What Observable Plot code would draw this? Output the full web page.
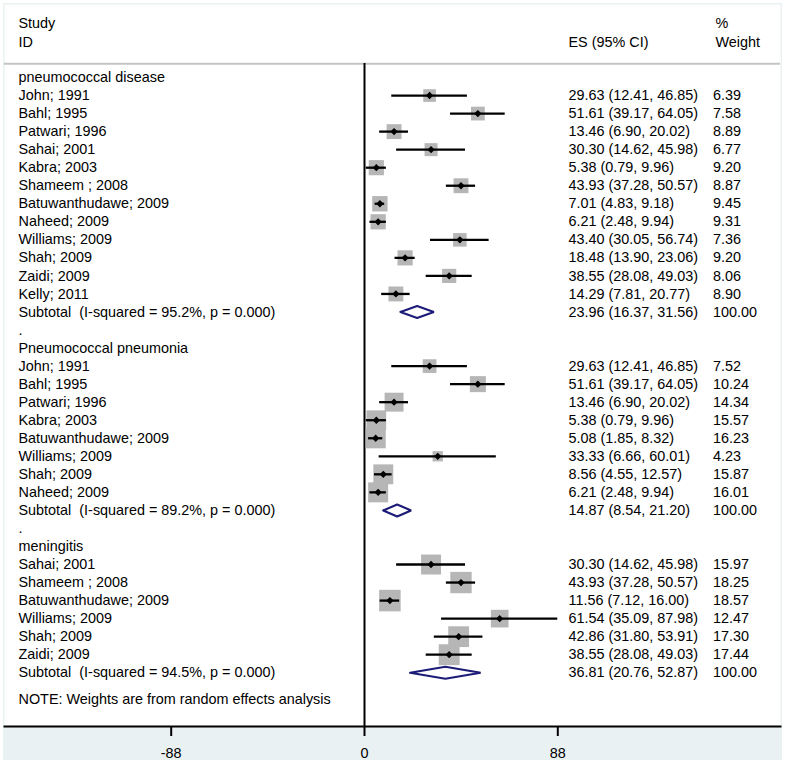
<!DOCTYPE html>
<html><head><meta charset="utf-8">
<script src="https://cdn.jsdelivr.net/npm/d3@7"></script>
<script src="https://cdn.jsdelivr.net/npm/@observablehq/plot@0.6"></script>
<style>
body{margin:0;background:#fff;}
#chart svg{display:block;outline:3px solid #fff;outline-offset:-3px;}
</style></head><body><div id="chart"></div>
<script>
// ---- data ----
const groupNames = ["pneumococcal disease", "Pneumococcal pneumonia", "meningitis"];
const studyGroup = [0,0,0,0,0,0,0,0,0,0,0,0, 1,1,1,1,1,1,1,1, 2,2,2,2,2,2];
const studyNames = [
  "John; 1991","Bahl; 1995","Patwari; 1996","Sahai; 2001","Kabra; 2003","Shameem ; 2008",
  "Batuwanthudawe; 2009","Naheed; 2009","Williams; 2009","Shah; 2009","Zaidi; 2009","Kelly; 2011",
  "John; 1991","Bahl; 1995","Patwari; 1996","Kabra; 2003","Batuwanthudawe; 2009","Williams; 2009","Shah; 2009","Naheed; 2009",
  "Sahai; 2001","Shameem ; 2008","Batuwanthudawe; 2009","Williams; 2009","Shah; 2009","Zaidi; 2009"
];
const esValues = [29.63,51.61,13.46,30.30,5.38,43.93,7.01,6.21,43.40,18.48,38.55,14.29,
  29.63,51.61,13.46,5.38,5.08,33.33,8.56,6.21,
  30.30,43.93,11.56,61.54,42.86,38.55];
const ciLower = [12.41,39.17,6.90,14.62,0.79,37.28,4.83,2.48,30.05,13.90,28.08,7.81,
  12.41,39.17,6.90,0.79,1.85,6.66,4.55,2.48,
  14.62,37.28,7.12,35.09,31.80,28.08];
const ciUpper = [46.85,64.05,20.02,45.98,9.96,50.57,9.18,9.94,56.74,23.06,49.03,20.77,
  46.85,64.05,20.02,9.96,8.32,60.01,12.57,9.94,
  45.98,50.57,16.00,87.98,53.91,49.03];
const weights = [6.39,7.58,8.89,6.77,9.20,8.87,9.45,9.31,7.36,9.20,8.06,8.90,
  7.52,10.24,14.34,15.57,16.23,4.23,15.87,16.01,
  15.97,18.25,18.57,12.47,17.30,17.44];
const subtotalLabels = [
  "Subtotal  (I-squared = 95.2%, p = 0.000)",
  "Subtotal  (I-squared = 89.2%, p = 0.000)",
  "Subtotal  (I-squared = 94.5%, p = 0.000)"
];
const subtotalES = [23.96, 14.87, 36.81];
const subtotalLower = [16.37, 8.54, 20.76];
const subtotalUpper = [31.56, 21.20, 52.87];
const subtotalWeight = [100, 100, 100];
const tickValues = [-88, 0, 88];
const noteText = "NOTE: Weights are from random effects analysis";
const headerLeft = ["Study", "ID"];
const headerES = "ES (95% CI)";
const headerWeight = ["%", "Weight"];

// ---- build rows ----
const labels = [], studies = [], subtotals = [];
let r = 0;
groupNames.forEach((g, gi) => {
  labels.push({row: r, text: g}); r++;
  studyNames.forEach((name, i) => {
    if (studyGroup[i] !== gi) return;
    studies.push({row: r, es: esValues[i], lo: ciLower[i], hi: ciUpper[i], w: weights[i]});
    labels.push({row: r, text: name}); r++;
  });
  subtotals.push({row: r, es: subtotalES[gi], lo: subtotalLower[gi], hi: subtotalUpper[gi], w: subtotalWeight[gi]});
  labels.push({row: r, text: subtotalLabels[gi].replace(/  /g, " \u00a0")}); r++;
  if (gi < groupNames.length - 1) { labels.push({row: r, text: "."}); r++; }
});
labels.push({row: r + 0.5, text: noteText});
const f2 = v => v.toFixed(2);
const esRows = [...studies, ...subtotals].map(d => ({row: d.row, text: `${f2(d.es)} (${f2(d.lo)}, ${f2(d.hi)})`}));
const wRows = [...studies, ...subtotals].map(d => ({row: d.row, text: f2(d.w)}));
const dh = 0.333;
const diamonds = subtotals.flatMap((d, k) => [
  {k, x: d.lo, y: d.row}, {k, x: d.es, y: d.row - dh}, {k, x: d.hi, y: d.row},
  {k, x: d.es, y: d.row + dh}, {k, x: d.lo, y: d.row}
]);

// layout: x scale and pixel columns for the text table
const xOpts = {domain: [-88, 88], range: [170.7, 557.3]};
const xs = Plot.scale({x: xOpts});
const colLabel = xs.invert(18), colES = xs.invert(568), colW = xs.invert(712.5), colWHead = xs.invert(715);

const FS = 14.4;
const font = "Arial, 'Liberation Sans', sans-serif";
const txt = {textAnchor: "start", fontSize: FS, fill: "#000"};
const chart = Plot.plot({
  width: 785, height: 763,
  marginLeft: 4, marginRight: 5, marginTop: 4, marginBottom: 37,
  style: {background: "#EAF1F3", fontFamily: font, fontSize: FS + "px", color: "#000"},
  x: xOpts,
  y: {type: "linear", domain: [0, 34.5], range: [77, 699.3], axis: null},
  r: {type: "sqrt", domain: [0, 100], range: [0, 28.2]},
  marks: [
    Plot.frame({fill: "white", stroke: null}),
    Plot.ruleY([-0.76], {stroke: "#c4c4c4", strokeWidth: 2}),
    Plot.ruleX([0], {stroke: "#000", strokeWidth: 2, insetTop: 59}),
    Plot.dot(studies, {x: "es", y: "row", r: "w", symbol: "square", fill: "#b6b6b6", stroke: null}),
    Plot.ruleY(studies, {y: "row", x1: "lo", x2: "hi", stroke: "#000", strokeWidth: 2.3}),
    Plot.dot(studies, {x: "es", y: "row", r: 3.3, symbol: "diamond2", fill: "#000", stroke: null}),
    Plot.line(diamonds, {x: "x", y: "y", z: "k", stroke: "#1c1c78", strokeWidth: 2.2, strokeLinejoin: "miter"}),
    Plot.text(labels, {x: () => colLabel, y: "row", text: "text", ...txt}),
    Plot.text(esRows, {x: () => colES, y: "row", text: "text", ...txt}),
    Plot.text(wRows, {x: () => colW, y: "row", text: "text", ...txt}),
    Plot.text(headerLeft, {x: () => colLabel, y: (d, i) => [-3, -1.95][i], text: d => d, ...txt}),
    Plot.text([headerES], {x: () => colES, y: () => -1.95, text: d => d, ...txt}),
    Plot.text(headerWeight, {x: () => colWHead, y: (d, i) => [-3, -1.95][i], text: d => d, ...txt}),
    Plot.frame({anchor: "bottom", stroke: "#000", strokeWidth: 2}),
    Plot.axisX(tickValues, {anchor: "bottom", tickSize: 10, tickPadding: 11, tickFormat: d => String(d), fontSize: FS, strokeWidth: 2, stroke: "#000", fill: "#000", label: null})
  ]
});
document.getElementById("chart").append(chart);
</script>
</body></html>
